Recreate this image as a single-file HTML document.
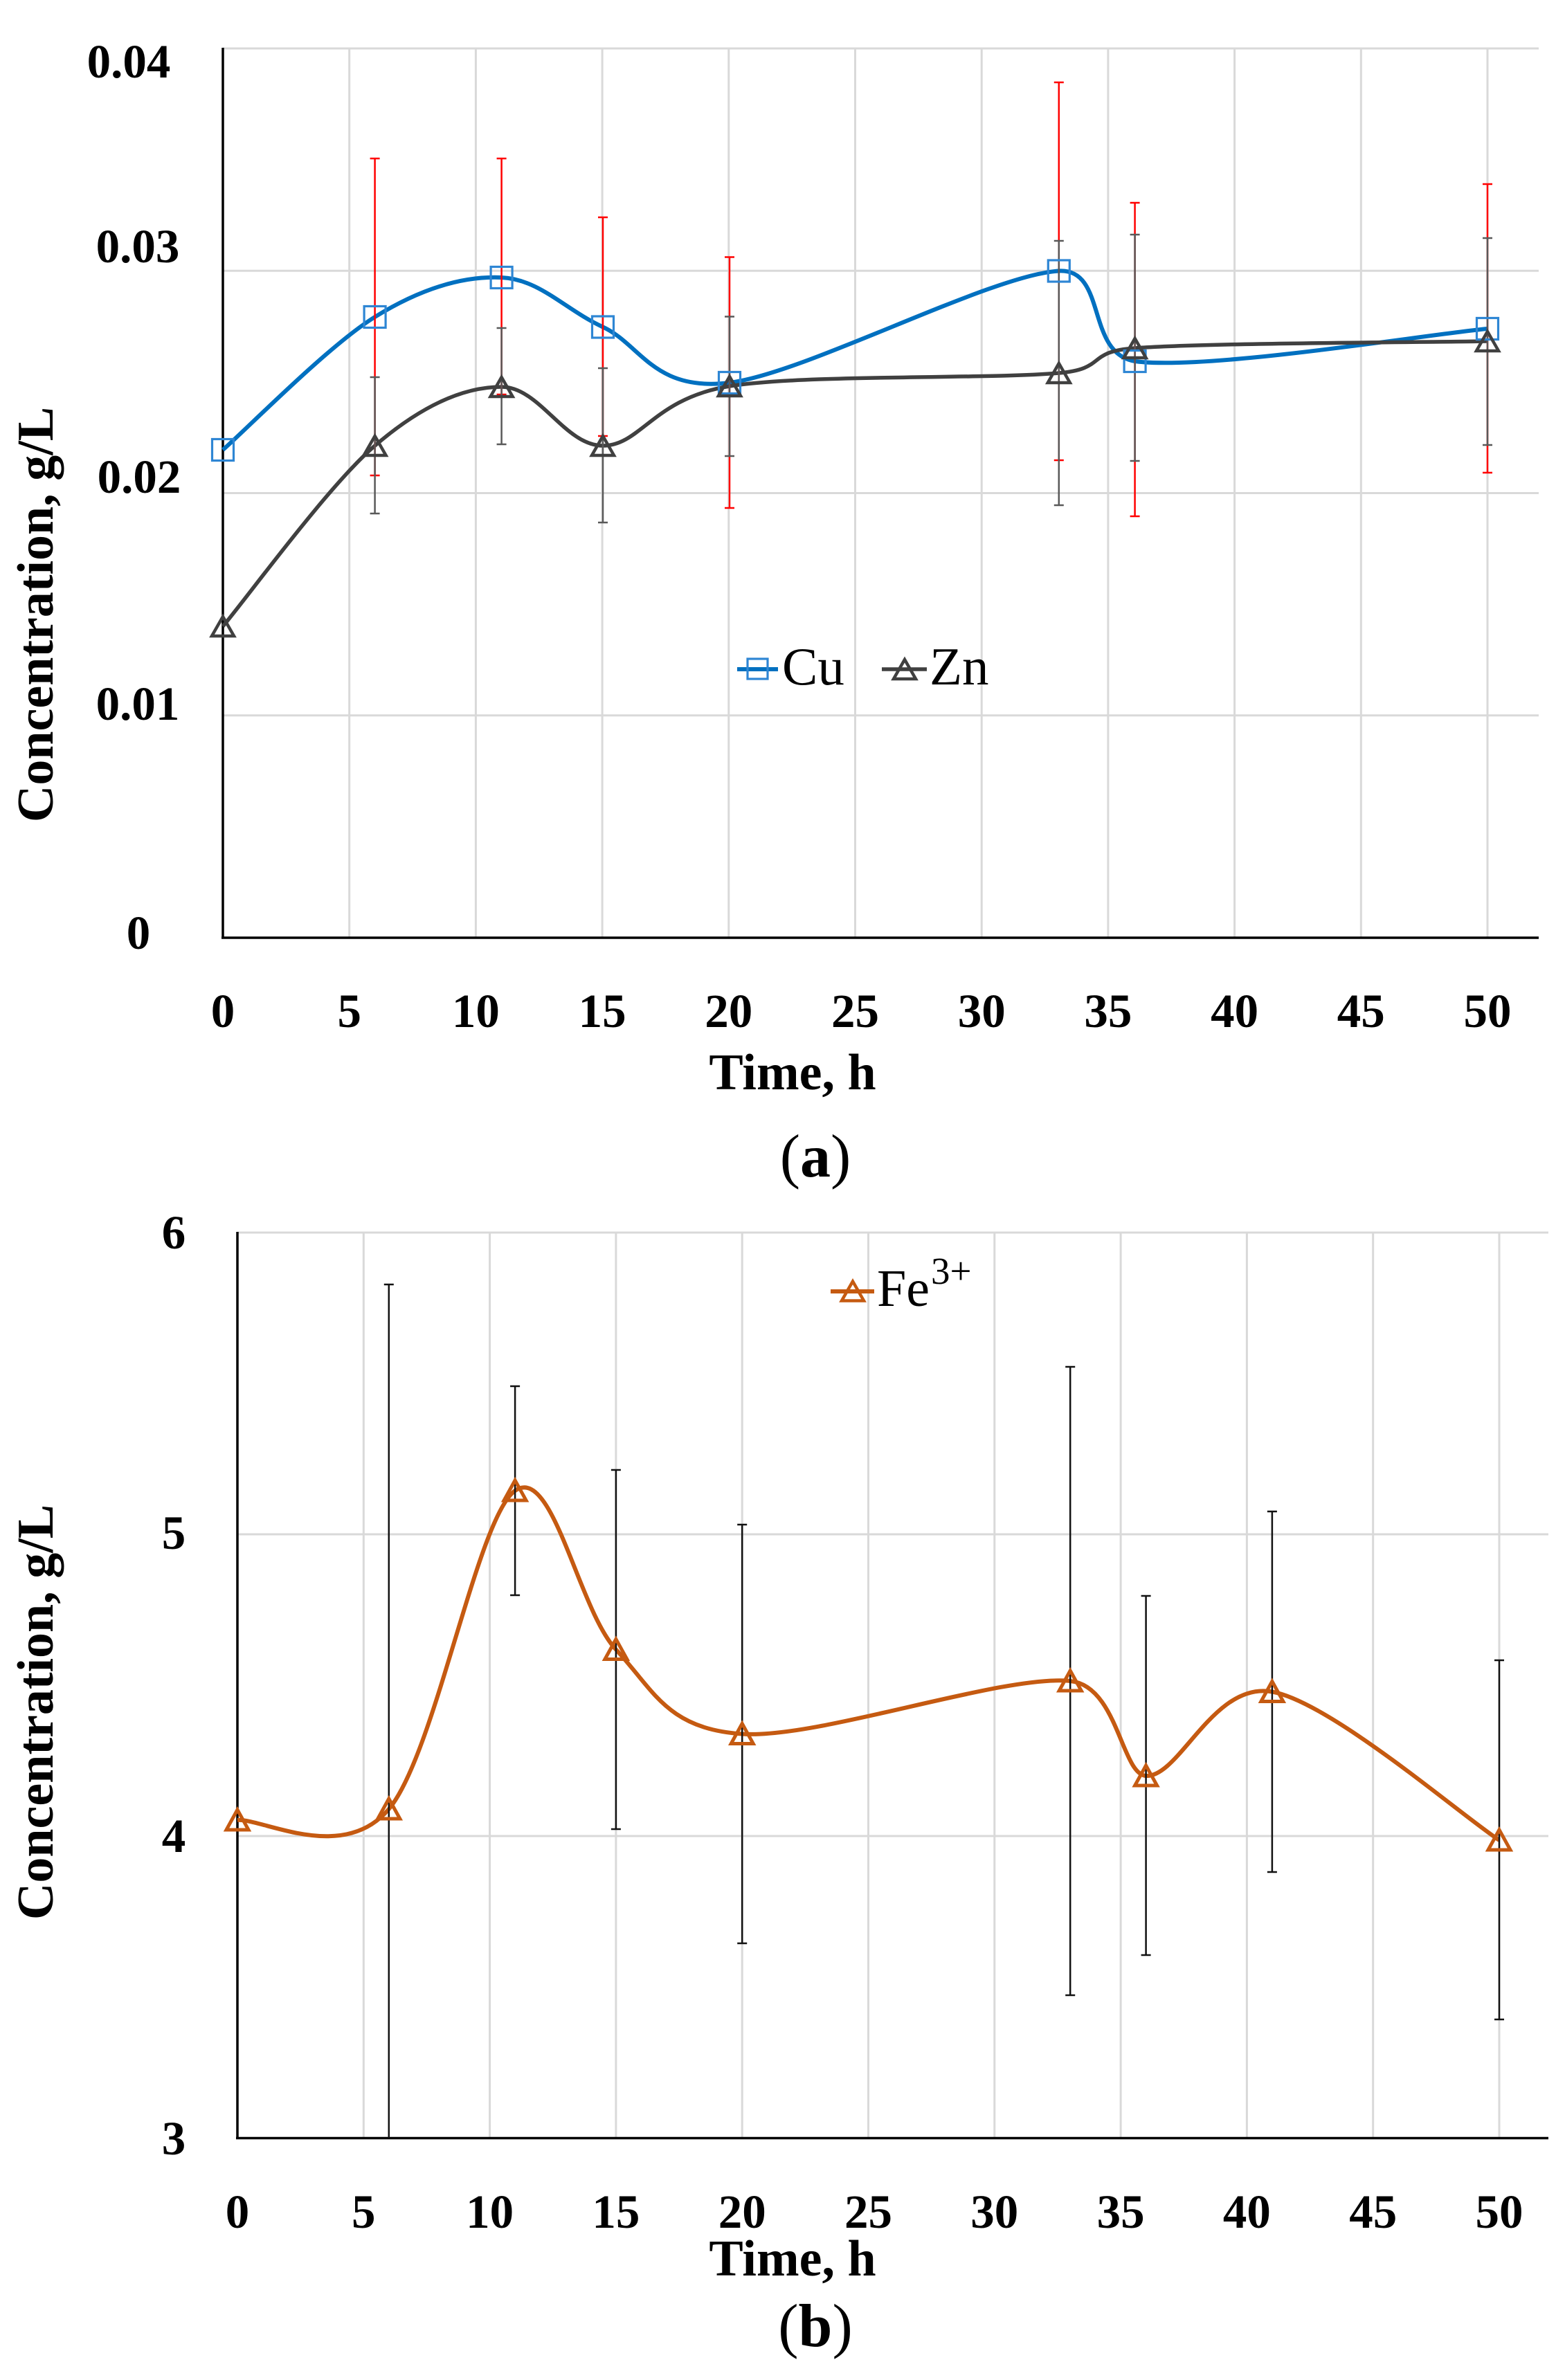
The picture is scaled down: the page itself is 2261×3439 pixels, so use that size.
<!DOCTYPE html>
<html>
<head>
<meta charset="utf-8">
<style>
  html, body { margin:0; padding:0; background:#fff; }
  svg { display:block; }
  text { font-family: "Liberation Serif", serif; fill:#000; }
  .tick { font-size:69px; font-weight:bold; }
  .title { font-size:74px; font-weight:bold; }
  .leg { font-size:77px; }
</style>
</head>
<body>
<svg width="2261" height="3439" viewBox="0 0 2261 3439" xmlns="http://www.w3.org/2000/svg">
  <rect x="0" y="0" width="2261" height="3439" fill="#fff"/>

  <!-- ================= CHART (a) ================= -->
  <g stroke="#D9D9D9" stroke-width="3" fill="none">
    <line x1="322" y1="70" x2="2223" y2="70"/>
    <line x1="322" y1="391.25" x2="2223" y2="391.25"/>
    <line x1="322" y1="712.5" x2="2223" y2="712.5"/>
    <line x1="322" y1="1033.75" x2="2223" y2="1033.75"/>
    <line x1="504.7" y1="70" x2="504.7" y2="1355"/>
    <line x1="687.4" y1="70" x2="687.4" y2="1355"/>
    <line x1="870.1" y1="70" x2="870.1" y2="1355"/>
    <line x1="1052.8" y1="70" x2="1052.8" y2="1355"/>
    <line x1="1235.5" y1="70" x2="1235.5" y2="1355"/>
    <line x1="1418.2" y1="70" x2="1418.2" y2="1355"/>
    <line x1="1600.9" y1="70" x2="1600.9" y2="1355"/>
    <line x1="1783.6" y1="70" x2="1783.6" y2="1355"/>
    <line x1="1966.3" y1="70" x2="1966.3" y2="1355"/>
    <line x1="2149" y1="70" x2="2149" y2="1355"/>
  </g>
  <g stroke="#000" stroke-width="3.5" fill="none">
    <line x1="322" y1="69" x2="322" y2="1356"/>
    <line x1="320" y1="1355" x2="2223" y2="1355"/>
  </g>

  <!-- series lines -->
  <path d="M322,650 C358.6,618 474.5,499.5 541.6,458 C608.7,416.5 669.7,398.58 724.6,401 C779.5,403.42 816.1,447.17 871,472.5 C925.9,497.83 944.2,566.5 1054,553 C1163.8,539.5 1432.2,396.67 1529.8,391.5 C1600,388 1568,510 1639.6,522 C1743.3,535.92 2063.6,482.83 2149,475" fill="none" stroke="#0070C0" stroke-width="6"/>
  <path d="M322,905 C358.6,861.5 474.5,701.67 541.6,644 C608.7,586.33 669.7,559 724.6,559 C779.5,559 816.1,644.17 871,644 C925.9,643.83 944.2,575.5 1054,558 C1163.8,540.5 1432.2,548.17 1529.8,539 C1600,533 1568,508 1639.6,503 C1743.3,495.33 2063.6,494.67 2149,493" fill="none" stroke="#404040" stroke-width="5.5"/>

  <!-- Cu error bars (red) -->
  <g stroke="#FF0000" stroke-width="2.5" fill="none">
    <path d="M541.6,229 V687 M534.6,229 H548.6 M534.6,687 H548.6"/>
    <path d="M724.6,229 V570 M717.6,229 H731.6 M717.6,570 H731.6"/>
    <path d="M871,314 V630 M864,314 H878 M864,630 H878"/>
    <path d="M1054,371.5 V734 M1047,371.5 H1061 M1047,734 H1061"/>
    <path d="M1529.8,119 V665 M1522.8,119 H1536.8 M1522.8,665 H1536.8"/>
    <path d="M1639.6,293 V746 M1632.6,293 H1646.6 M1632.6,746 H1646.6"/>
    <path d="M2149,266 V683 M2142,266 H2156 M2142,683 H2156"/>
  </g>
  <!-- Zn error bars (grey) -->
  <g stroke="#595959" stroke-width="2.5" fill="none">
    <path d="M541.6,545 V742 M534.6,545 H548.6 M534.6,742 H548.6"/>
    <path d="M724.6,474 V642 M717.6,474 H731.6 M717.6,642 H731.6"/>
    <path d="M871,532 V755 M864,532 H878 M864,755 H878"/>
    <path d="M1054,457.5 V659 M1047,457.5 H1061 M1047,659 H1061"/>
    <path d="M1529.8,348 V730 M1522.8,348 H1536.8 M1522.8,730 H1536.8"/>
    <path d="M1639.6,339 V666 M1632.6,339 H1646.6 M1632.6,666 H1646.6"/>
    <path d="M2149,344 V643 M2142,344 H2156 M2142,643 H2156"/>
  </g>

  <!-- Cu markers -->
  <g stroke="#2E86D4" stroke-width="3.2" fill="none">
    <rect x="306.5" y="634.5" width="31" height="31"/>
    <rect x="526.1" y="442.5" width="31" height="31"/>
    <rect x="709.1" y="385.5" width="31" height="31"/>
    <rect x="855.5" y="457" width="31" height="31"/>
    <rect x="1038.5" y="537.5" width="31" height="31"/>
    <rect x="1514.3" y="376" width="31" height="31"/>
    <rect x="1624.1" y="506.5" width="31" height="31"/>
    <rect x="2133.5" y="459.5" width="31" height="31"/>
  </g>
  <!-- Zn markers -->
  <g stroke="#404040" stroke-width="4.5" fill="none" stroke-linejoin="miter">
    <polygon points="322,891 306,919 338,919"/>
    <polygon points="541.6,630 525.6,658 557.6,658"/>
    <polygon points="724.6,545 708.6,573 740.6,573"/>
    <polygon points="871,630 855,658 887,658"/>
    <polygon points="1054,544 1038,572 1070,572"/>
    <polygon points="1529.8,525 1513.8,553 1545.8,553"/>
    <polygon points="1639.6,489 1623.6,517 1655.6,517"/>
    <polygon points="2149,479 2133,507 2165,507"/>
  </g>

  <!-- legend (a) -->
  <line x1="1065" y1="967" x2="1124" y2="967" stroke="#0070C0" stroke-width="6"/>
  <rect x="1080" y="952" width="29" height="29" fill="none" stroke="#2E86D4" stroke-width="3.2"/>
  <text class="leg" x="1130" y="989">Cu</text>
  <line x1="1274" y1="967" x2="1339" y2="967" stroke="#404040" stroke-width="5.5"/>
  <polygon points="1307,953 1291,981 1323,981" fill="none" stroke="#404040" stroke-width="4.5"/>
  <text class="leg" x="1343" y="989">Zn</text>

  <!-- y tick labels (a) -->
  <text class="tick" x="186" y="112" text-anchor="middle">0.04</text>
  <text class="tick" x="199" y="379" text-anchor="middle">0.03</text>
  <text class="tick" x="201" y="712" text-anchor="middle">0.02</text>
  <text class="tick" x="199" y="1040" text-anchor="middle">0.01</text>
  <text class="tick" x="200" y="1371" text-anchor="middle">0</text>

  <!-- x tick labels (a) -->
  <text class="tick" x="322" y="1484" text-anchor="middle">0</text>
  <text class="tick" x="504.7" y="1484" text-anchor="middle">5</text>
  <text class="tick" x="687.4" y="1484" text-anchor="middle">10</text>
  <text class="tick" x="870.1" y="1484" text-anchor="middle">15</text>
  <text class="tick" x="1052.8" y="1484" text-anchor="middle">20</text>
  <text class="tick" x="1235.5" y="1484" text-anchor="middle">25</text>
  <text class="tick" x="1418.2" y="1484" text-anchor="middle">30</text>
  <text class="tick" x="1600.9" y="1484" text-anchor="middle">35</text>
  <text class="tick" x="1783.6" y="1484" text-anchor="middle">40</text>
  <text class="tick" x="1966.3" y="1484" text-anchor="middle">45</text>
  <text class="tick" x="2149" y="1484" text-anchor="middle">50</text>

  <text class="title" x="1145" y="1574" text-anchor="middle">Time, h</text>
  <text class="title" transform="translate(76,888) rotate(-90)" text-anchor="middle">Concentration, g/L</text>
  <text x="1178" y="1700" text-anchor="middle" style="font-size:88px;">(<tspan font-weight="bold">a</tspan>)</text>

  <!-- ================= CHART (b) ================= -->
  <g stroke="#D9D9D9" stroke-width="3" fill="none">
    <line x1="343" y1="1781" x2="2237" y2="1781"/>
    <line x1="343" y1="2217" x2="2237" y2="2217"/>
    <line x1="343" y1="2653" x2="2237" y2="2653"/>
    <line x1="525.3" y1="1781" x2="525.3" y2="3089"/>
    <line x1="707.6" y1="1781" x2="707.6" y2="3089"/>
    <line x1="889.9" y1="1781" x2="889.9" y2="3089"/>
    <line x1="1072.2" y1="1781" x2="1072.2" y2="3089"/>
    <line x1="1254.5" y1="1781" x2="1254.5" y2="3089"/>
    <line x1="1436.8" y1="1781" x2="1436.8" y2="3089"/>
    <line x1="1619.1" y1="1781" x2="1619.1" y2="3089"/>
    <line x1="1801.4" y1="1781" x2="1801.4" y2="3089"/>
    <line x1="1983.7" y1="1781" x2="1983.7" y2="3089"/>
    <line x1="2166" y1="1781" x2="2166" y2="3089"/>
  </g>
  <g stroke="#000" stroke-width="3.5" fill="none">
    <line x1="343" y1="1780" x2="343" y2="3091"/>
    <line x1="341" y1="3089.5" x2="2237" y2="3089.5"/>
  </g>

  <path d="M343,2630 C379.47,2627.33 494.95,2693.33 561.8,2614 C628.65,2534.67 689.42,2192.42 744.1,2154 C798.78,2115.58 835.22,2324.92 889.9,2383.5 C944.58,2442.08 962.82,2497.92 1072.2,2505.5 C1181.58,2513.08 1448.97,2418.92 1546.2,2429 C1615,2436 1620,2563.42 1655.6,2566 C1704.22,2568.58 1752.83,2429 1837.9,2444.5 C1922.97,2460 2111.32,2623.25 2166,2659" fill="none" stroke="#C55A11" stroke-width="6"/>

  <g stroke="#111" stroke-width="2.5" fill="none">
    <path d="M561.8,1856 V3089 M554.8,1856 H568.8"/>
    <path d="M744.1,2003 V2305 M737.1,2003 H751.1 M737.1,2305 H751.1"/>
    <path d="M889.9,2124 V2643 M882.9,2124 H896.9 M882.9,2643 H896.9"/>
    <path d="M1072.2,2203 V2808 M1065.2,2203 H1079.2 M1065.2,2808 H1079.2"/>
    <path d="M1546.2,1975 V2883 M1539.2,1975 H1553.2 M1539.2,2883 H1553.2"/>
    <path d="M1655.6,2306 V2825 M1648.6,2306 H1662.6 M1648.6,2825 H1662.6"/>
    <path d="M1837.9,2184 V2705 M1830.9,2184 H1844.9 M1830.9,2705 H1844.9"/>
    <path d="M2166,2399 V2918 M2159,2399 H2173 M2159,2918 H2173"/>
  </g>

  <g stroke="#C55A11" stroke-width="5" fill="none" stroke-linejoin="miter">
    <polygon points="343,2615 327,2644 359,2644"/>
    <polygon points="561.8,2599 545.8,2628 577.8,2628"/>
    <polygon points="744.1,2139 728.1,2168 760.1,2168"/>
    <polygon points="889.9,2368.5 873.9,2397.5 905.9,2397.5"/>
    <polygon points="1072.2,2490.5 1056.2,2519.5 1088.2,2519.5"/>
    <polygon points="1546.2,2414 1530.2,2443 1562.2,2443"/>
    <polygon points="1655.6,2551 1639.6,2580 1671.6,2580"/>
    <polygon points="1837.9,2429.5 1821.9,2458.5 1853.9,2458.5"/>
    <polygon points="2166,2644 2150,2673 2182,2673"/>
  </g>

  <!-- legend (b) -->
  <line x1="1200" y1="1866" x2="1263" y2="1866" stroke="#C55A11" stroke-width="6"/>
  <polygon points="1232,1851.5 1216,1879.5 1248,1879.5" fill="none" stroke="#C55A11" stroke-width="4.5"/>
  <text x="1267" y="1887" style="font-size:76px;">Fe</text>
  <text x="1345" y="1855" style="font-size:55px;">3+</text>

  <!-- y tick labels (b) -->
  <text class="tick" x="251" y="1804" text-anchor="middle">6</text>
  <text class="tick" x="251" y="2238" text-anchor="middle">5</text>
  <text class="tick" x="251" y="2676" text-anchor="middle">4</text>
  <text class="tick" x="251" y="3113" text-anchor="middle">3</text>

  <!-- x tick labels (b) -->
  <text class="tick" x="343" y="3219" text-anchor="middle">0</text>
  <text class="tick" x="525.3" y="3219" text-anchor="middle">5</text>
  <text class="tick" x="707.6" y="3219" text-anchor="middle">10</text>
  <text class="tick" x="889.9" y="3219" text-anchor="middle">15</text>
  <text class="tick" x="1072.2" y="3219" text-anchor="middle">20</text>
  <text class="tick" x="1254.5" y="3219" text-anchor="middle">25</text>
  <text class="tick" x="1436.8" y="3219" text-anchor="middle">30</text>
  <text class="tick" x="1619.1" y="3219" text-anchor="middle">35</text>
  <text class="tick" x="1801.4" y="3219" text-anchor="middle">40</text>
  <text class="tick" x="1983.7" y="3219" text-anchor="middle">45</text>
  <text class="tick" x="2166" y="3219" text-anchor="middle">50</text>

  <text class="title" x="1145" y="3288" text-anchor="middle">Time, h</text>
  <text class="title" transform="translate(76,2474) rotate(-90)" text-anchor="middle">Concentration, g/L</text>
  <text x="1178" y="3390" text-anchor="middle" style="font-size:88px;">(<tspan font-weight="bold">b</tspan>)</text>
</svg>
</body>
</html>
